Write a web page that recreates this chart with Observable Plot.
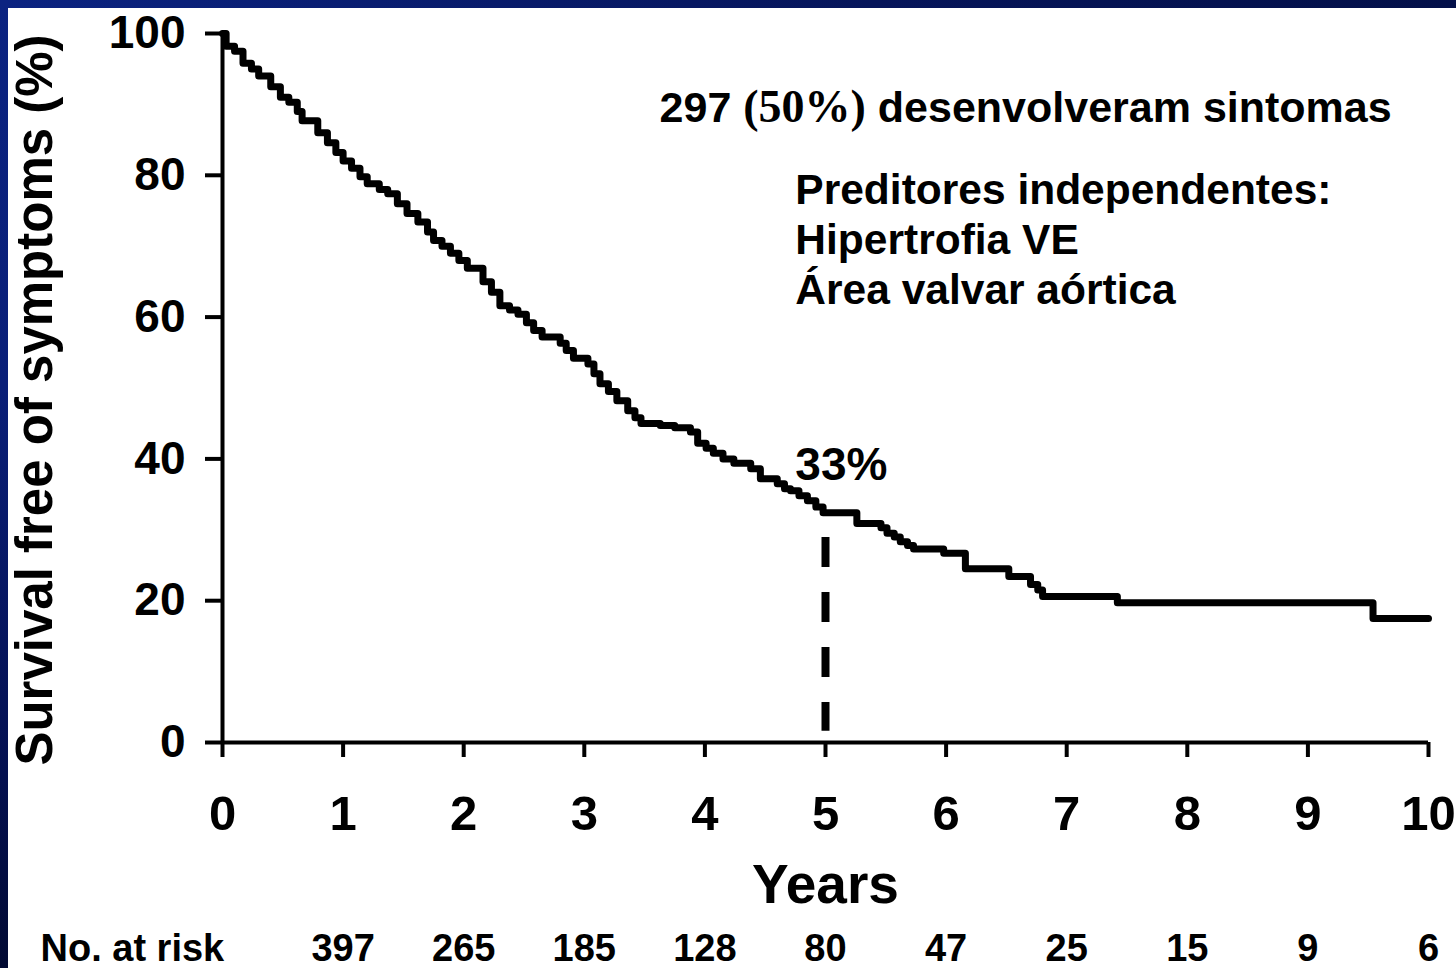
<!DOCTYPE html>
<html>
<head>
<meta charset="utf-8">
<script src="https://cdn.jsdelivr.net/npm/d3@7"></script>
<script src="https://cdn.jsdelivr.net/npm/@observablehq/plot@0.6"></script>
<style>
  html, body { margin: 0; padding: 0; background: #ffffff; }
  body { width: 1456px; height: 968px; position: relative; overflow: hidden; }
  #chart { position: absolute; left: 0; top: 0; }
  #topbar { position: absolute; left: 0; top: 0; width: 1456px; height: 8px;
    background: linear-gradient(to right, #0b2381, #06155a 60%, #031049); }
  #leftbar { position: absolute; left: 0; top: 0; width: 8px; height: 968px;
    background: linear-gradient(to bottom, #0b2381, #0a1f78 40%, #041050 80%, #020a33); }
  svg text { font-family: "Liberation Sans", Arial, sans-serif; font-weight: bold; }
</style>
</head>
<body>
<div id="chart"></div>
<div id="topbar"></div>
<div id="leftbar"></div>
<script>
// Kaplan–Meier survival free of symptoms (step points)
const years = [0, 0.03, 0.1, 0.17, 0.24, 0.3, 0.4, 0.48, 0.55, 0.62, 0.66, 0.79, 0.87, 0.94, 1.0,
  1.07, 1.14, 1.2, 1.3, 1.37, 1.45, 1.53, 1.62, 1.7, 1.75, 1.82, 1.89, 1.96, 2.03, 2.16,
  2.23, 2.3, 2.38, 2.45, 2.52, 2.58, 2.65, 2.8, 2.85, 2.91, 3.03, 3.08, 3.13, 3.2, 3.27,
  3.36, 3.42, 3.47, 3.63, 3.75, 3.88, 3.94, 4.01, 4.07, 4.15, 4.24, 4.38, 4.46, 4.6, 4.66,
  4.71, 4.78, 4.85, 4.92, 4.98, 5.26, 5.46, 5.51, 5.57, 5.62, 5.68, 5.73, 5.98, 6.16, 6.52,
  6.7, 6.76, 6.8, 7.42, 9.54, 10];
const survival = [100, 98.2, 97.5, 95.8, 95, 94, 92.5, 91, 90.3, 89, 87.7, 86, 84.6, 83.2, 82,
  81, 79.8, 78.8, 78, 77.4, 76, 74.6, 73.4, 72, 70.8, 70, 69, 68, 66.9, 65,
  63.5, 61.6, 61, 60.4, 59.2, 58.1, 57.2, 56.3, 55.3, 54.2, 53.4, 52, 50.6, 49.5, 48.2,
  46.8, 45.8, 45, 44.7, 44.4, 43.8, 42.2, 41.5, 40.8, 40, 39.4, 38.6, 37.2, 36.5, 35.8,
  35.5, 34.8, 34.1, 33.2, 32.4, 30.9, 30.3, 29.5, 29, 28.3, 27.8, 27.3, 26.7, 24.5, 23.4,
  22.3, 21.5, 20.6, 19.7, 17.5, 17.5];

const xTicks = [0, 1, 2, 3, 4, 5, 6, 7, 8, 9, 10];
const yTicks = [0, 20, 40, 60, 80, 100];
const riskYears = [1, 2, 3, 4, 5, 6, 7, 8, 9, 10];
const atRisk = [397, 265, 185, 128, 80, 47, 25, 15, 9, 6];

const yLabel = "Survival free of symptoms (%)";
const xLabel = "Years";
const riskLabel = "No. at risk";
const headline = "297 (50%) desenvolveram sintomas";
const predictors = ["Preditores independentes:", "Hipertrofia VE", "Área valvar aórtica"];
const fiveYearLabel = "33%";
const fiveYear = 5;

const curve = years.map((t, i) => ({t, s: survival[i]}));

const chart = Plot.plot({
  width: 1456,
  height: 968,
  marginLeft: 222,
  marginRight: 28,
  marginTop: 33,
  marginBottom: 226,
  x: {domain: [0, 10]},
  y: {domain: [0, 100]},
  style: {background: "transparent", color: "#000", fontFamily: "'Liberation Sans', Arial, sans-serif"},
  marks: [
    Plot.axisY({ticks: yTicks, tickSize: 17, tickPadding: 20, fontSize: 46, fontWeight: "bold",
      strokeWidth: 4, label: null, tickFormat: d => String(d)}),
    Plot.axisX({ticks: xTicks, tickSize: 15, tickPadding: 38, fontSize: 49, fontWeight: "bold",
      strokeWidth: 4, label: null, tickFormat: d => String(d)}),
    Plot.ruleX([0], {y1: 0, y2: 100, strokeWidth: 4}),
    Plot.ruleY([0], {x1: 0, x2: 10, strokeWidth: 4}),
    Plot.ruleX([fiveYear], {y1: 28.9, y2: 1.6, strokeWidth: 8, strokeDasharray: "30,25"}),
    Plot.line(curve, {x: "t", y: "s", curve: "step-after", strokeWidth: 7,
      strokeLinejoin: "round", strokeLinecap: "round"}),
    Plot.text([yLabel], {frameAnchor: "left", textAnchor: "middle", dx: -187, dy: 12, rotate: -90, fontSize: 51, fontWeight: "bold"}),
    Plot.text([xLabel], {frameAnchor: "bottom", dy: 160, fontSize: 55, fontWeight: "bold"}),
    Plot.text([riskLabel], {frameAnchor: "bottom-left", dx: -182, dy: 218, textAnchor: "start", fontSize: 38, fontWeight: "bold"}),
    Plot.text(riskYears, {x: d => d, text: (d, i) => String(atRisk[i]), frameAnchor: "bottom", dy: 218, fontSize: 38, fontWeight: "bold"}),
    Plot.text([headline], {x: 3.624, y: 89.4, textAnchor: "start", fontSize: 43, fontWeight: "bold"}),
    Plot.text(predictors, {x: 4.75, y: (d, i) => 77.9 - i * 7.05, textAnchor: "start", fontSize: 42.5, fontWeight: "bold"}),
    Plot.text([fiveYearLabel], {x: 4.75, y: 39.1, textAnchor: "start", fontSize: 46, fontWeight: "bold"})
  ]
});

// Mixed fonts for the headline: "(50%)" is set in a serif face
d3.select(chart).selectAll("text").each(function() {
  const el = d3.select(this);
  if (el.text() === headline) {
    el.text(null);
    el.append("tspan").text("297 ");
    el.append("tspan").style("font-family", "'Liberation Serif', 'Times New Roman', serif")
      .style("font-size", "46px").text("(50%)");
    el.append("tspan").text(" desenvolveram sintomas");
  }
});

document.getElementById("chart").appendChild(chart);
</script>
</body>
</html>
